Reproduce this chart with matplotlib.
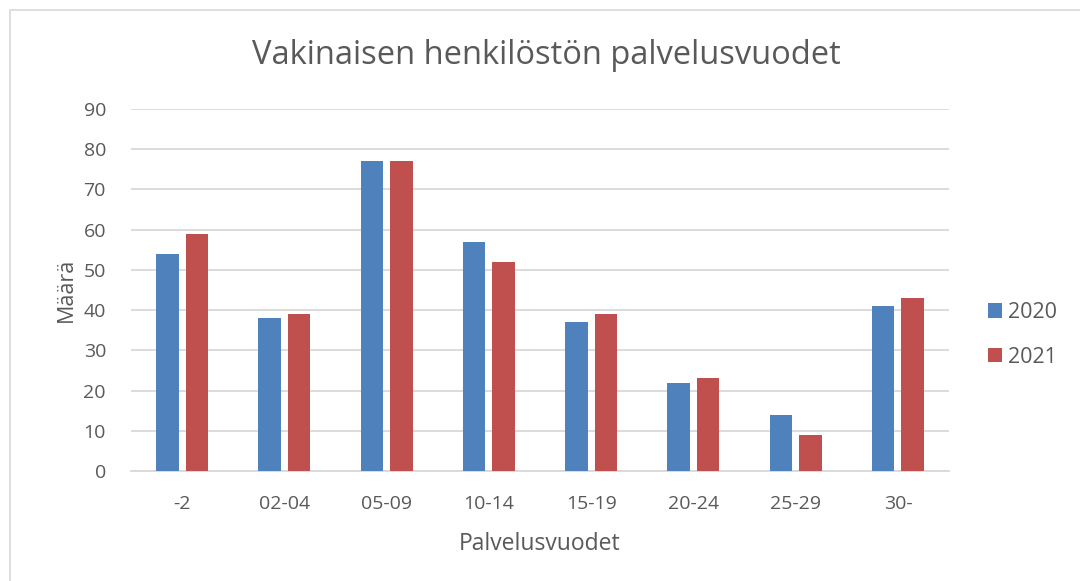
import matplotlib
matplotlib.use("Agg")
import matplotlib.pyplot as plt
import numpy as np
from matplotlib.patches import Rectangle

categories = ["-2", "02-04", "05-09", "10-14", "15-19", "20-24", "25-29", "30-"]
series_names = ["2020", "2021"]
values_2020 = [54, 38, 77, 57, 37, 22, 14, 41]
values_2021 = [59, 39, 77, 52, 39, 23, 9, 43]
colors = ["#4f81bd", "#c0504d"]
yticks = [0, 10, 20, 30, 40, 50, 60, 70, 80, 90]

plt.rcParams['font.family'] = ['Open Sans', 'DejaVu Sans']
txt = "#595959"

fig = plt.figure(figsize=(10.8, 5.81), dpi=100)
fig.patches.append(Rectangle((10/1080, -0.1), 1.2, 1 - 10/581 + 0.1, transform=fig.transFigure,
                             fill=False, edgecolor="#d9d9d9", linewidth=1.2))
ax = fig.add_axes([131/1080, 1 - 471/581, 818/1080, 362/581])

x = np.arange(len(categories))
w = 0.22
off = 0.145
ax.bar(x - off, values_2020, w, color=colors[0], label=series_names[0], zorder=3)
ax.bar(x + off, values_2021, w, color=colors[1], label=series_names[1], zorder=3)

ax.set_xlim(-0.5, len(categories) - 0.5)
ax.set_ylim(0, 90)
ax.set_yticks(yticks)
ax.set_xticks(x)
ax.set_xticklabels(categories)
ax.grid(axis='y', color="#d9d9d9", linewidth=1.3, zorder=0)
for s in ["top", "right", "left"]:
    ax.spines[s].set_visible(False)
ax.spines["bottom"].set_color("#d9d9d9")
ax.spines["bottom"].set_linewidth(1.3)
ax.tick_params(axis='both', length=0, labelsize=14, labelcolor=txt, colors=txt)
ax.tick_params(axis='x', pad=17)
ax.tick_params(axis='y', pad=18)

ax.set_xlabel("Palvelusvuodet", fontsize=16.5, color=txt, labelpad=14)
ax.set_ylabel("Määrä", fontsize=15.5, color=txt, labelpad=5)
fig.text(546/1080, 1 - 56/581, "Vakinaisen henkilöstön palvelusvuodet", ha='center', va='center',
         fontsize=23.5, color=txt)

leg = fig.legend(*ax.get_legend_handles_labels(), loc='center left',
                 bbox_to_anchor=(988/1080, 1 - 335/581), frameon=False, fontsize=15.5,
                 labelcolor=txt, handlelength=0.65, handleheight=0.65, labelspacing=1.1,
                 handletextpad=0.3, borderpad=0, borderaxespad=0)

fig.savefig("out.png", dpi=100)
